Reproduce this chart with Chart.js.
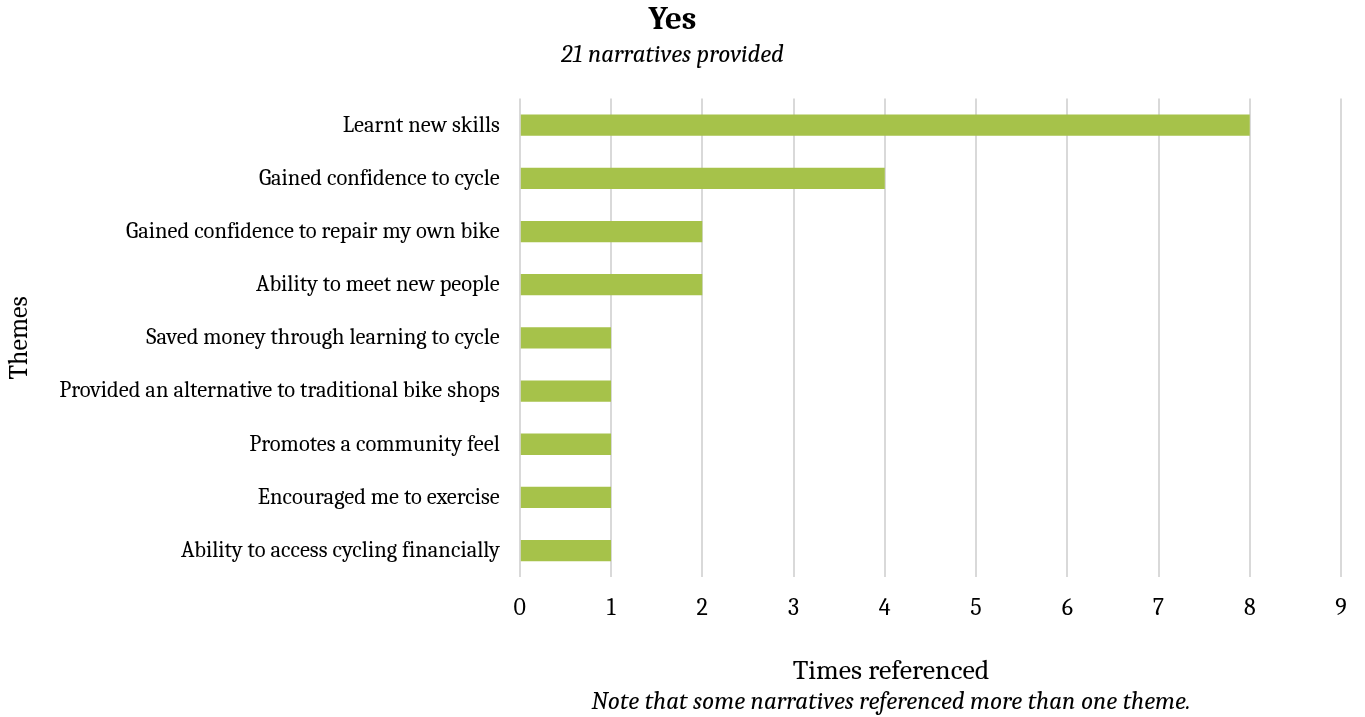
<!DOCTYPE html>
<html>
<head>
<meta charset="utf-8">
<script src="https://cdn.jsdelivr.net/npm/chart.js@4"></script>
<style>
  body { margin: 0; background: #fff; }
  #wrap { width: 1365px; height: 717px; }
</style>
</head>
<body>
<div id="wrap"><canvas id="chart"></canvas></div>
<script>
const themes = [
  'Learnt new skills',
  'Gained confidence to cycle',
  'Gained confidence to repair my own bike',
  'Ability to meet new people',
  'Saved money through learning to cycle',
  'Provided an alternative to traditional bike shops',
  'Promotes a community feel',
  'Encouraged me to exercise',
  'Ability to access cycling financially'
];
const timesReferenced = [8, 4, 2, 2, 1, 1, 1, 1, 1];
const xTicks = [0, 1, 2, 3, 4, 5, 6, 7, 8, 9];

const serif = 'Cambria, Caladea, "Liberation Serif", "DejaVu Serif", serif';
Chart.defaults.font.family = serif;
Chart.defaults.color = '#000';

// x axis title and the italic note, drawn under the tick labels
const bottomText = {
  id: 'bottomText',
  afterDraw(chart) {
    const ctx = chart.ctx;
    const cx = 891;
    ctx.save();
    ctx.fillStyle = '#000';
    ctx.textAlign = 'center';
    ctx.textBaseline = 'middle';
    ctx.font = '28px ' + serif;
    ctx.fillText('Times referenced', cx, 671);
    ctx.font = 'italic 25px ' + serif;
    ctx.fillText('Note that some narratives referenced more than one theme.', cx, 702);
    ctx.restore();
  }
};

new Chart(document.getElementById('chart'), {
  type: 'bar',
  data: {
    labels: themes,
    datasets: [{
      label: 'Times referenced',
      data: timesReferenced,
      backgroundColor: '#a6c24a',
      barPercentage: 0.4,
      categoryPercentage: 1
    }]
  },
  options: {
    indexAxis: 'y',
    responsive: true,
    maintainAspectRatio: false,
    animation: false,
    layout: { padding: { top: 0, right: 24, bottom: 77, left: 4 } },
    plugins: {
      legend: { display: false },
      tooltip: { enabled: false },
      title: {
        display: true,
        text: 'Yes',
        font: { size: 33, weight: 'bold' },
        padding: { top: 0, bottom: 0 }
      },
      subtitle: {
        display: true,
        text: '21 narratives provided',
        font: { size: 25, style: 'italic' },
        padding: { top: 0, bottom: 29 }
      }
    },
    scales: {
      x: {
        min: 0,
        max: 9,
        afterBuildTicks(axis) { axis.ticks = xTicks.map(v => ({ value: v })); },
        grid: { color: '#d9d9d9', lineWidth: 2, drawTicks: false },
        border: { display: false },
        ticks: { font: { size: 24 }, padding: 17 }
      },
      y: {
        grid: { display: false },
        border: { display: false },
        ticks: { font: { size: 22.5 }, padding: 12 },
        title: {
          display: true,
          text: 'Themes',
          font: { size: 26 },
          padding: { top: 0, bottom: 12 }
        }
      }
    }
  },
  plugins: [bottomText]
});
</script>
</body>
</html>
